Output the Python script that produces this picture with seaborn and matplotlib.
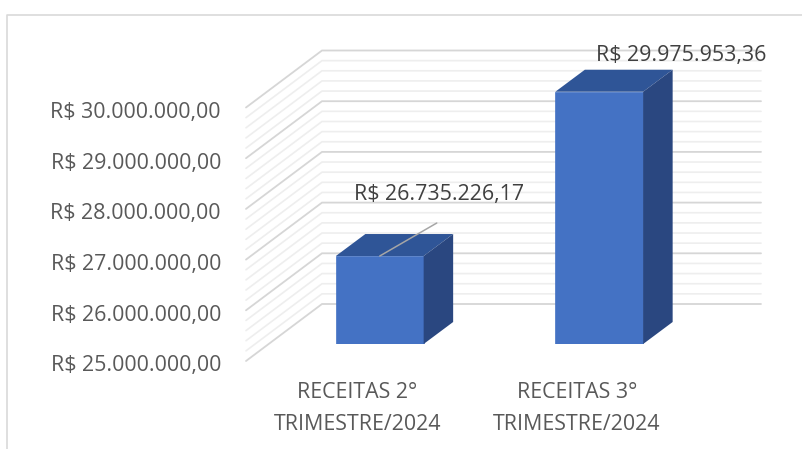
import numpy as np
import matplotlib
matplotlib.use("Agg")
import matplotlib.pyplot as plt
from matplotlib.lines import Line2D
from matplotlib.patches import Polygon
from matplotlib.ticker import FuncFormatter
from matplotlib.transforms import Affine2D
import seaborn as sns

categories = ["RECEITAS 2°\nTRIMESTRE/2024", "RECEITAS 3°\nTRIMESTRE/2024"]
values = [26735226.17, 29975953.36]
value_labels = ["R$ 26.735.226,17", "R$ 29.975.953,36"]
major_ticks = [25e6, 26e6, 27e6, 28e6, 29e6, 30e6]
minor_step = 0.2e6


def brl(v, pos=None):
    return "R$ " + f"{v:,.2f}".replace(",", "X").replace(".", ",").replace("X", ".")


sns.set_style("white")
plt.rcParams["font.family"] = ["Open Sans", "DejaVu Sans"]

W, H = 803, 449
PX_X = 219.5        # pixels per category
PX_Y = 50.7e-6      # pixels per real
FS = 15.4
fig = plt.figure(figsize=(W / 100, H / 100), dpi=100)


def make_axes(left, bottom_y):
    a = fig.add_axes([left / W, (H - bottom_y) / H, 2 * PX_X / W, 6.5e6 * PX_Y / H])
    a.set_xlim(-0.5, 1.5)
    a.set_ylim(25e6, 31.5e6)
    a.patch.set_alpha(0)
    sns.despine(ax=a, left=True, bottom=True)
    return a


# front plane of the "3d" box: holds ticks and grid
wall = make_axes(246, 361)
# plane of the bars, shifted into the depth
ax = make_axes(270, 344)

wall.set_xticks([0, 1])
wall.set_xticklabels(categories)
wall.set_yticks(major_ticks)
wall.yaxis.set_major_formatter(FuncFormatter(brl))
wall.tick_params(axis="y", length=0, pad=18, labelsize=FS, labelcolor="#595959")
wall.tick_params(axis="x", length=0, pad=15, labelsize=FS, labelcolor="#595959")
for t in wall.get_xticklabels():
    t.set_linespacing(1.72)
    t.set_transform(t.get_transform() + Affine2D().translate(1.5, 0))
for t in wall.get_yticklabels():
    t.set_transform(t.get_transform() + Affine2D().translate(0, -2.5))

dx_wall, dy_wall = 76 / PX_X, 57 / PX_Y
for v in np.arange(25e6, 30e6 + 1, minor_step):
    is_major = any(abs(v - m) < 1 for m in major_ticks)
    wall.plot([-0.5, -0.5 + dx_wall, 1.5 + dx_wall], [v, v + dy_wall, v + dy_wall],
              color="#d6d6d6" if is_major else "#eeeeee", lw=1.3 if is_major else 1.2,
              clip_on=False, zorder=1 if is_major else 0.5, solid_joinstyle="miter")

sns.barplot(x=categories, y=values, ax=ax, width=0.4, color="#4472C4", saturation=1,
            edgecolor="#4472C4", linewidth=0.5, zorder=3)
ax.set_xlabel("")
ax.set_ylabel("")
ax.set_xticks([])
ax.set_yticks([])
ax.set_xlim(-0.5, 1.5)
ax.set_ylim(25e6, 31.5e6)

dx, dy = 29.5 / PX_X, 22 / PX_Y
base = 25e6
for p in ax.patches[:len(values)]:
    x0, x1 = p.get_x(), p.get_x() + p.get_width()
    top = p.get_height()
    ax.add_patch(Polygon([(x0, top), (x1, top), (x1 + dx, top + dy), (x0 + dx, top + dy)],
                         facecolor="#2F5597", edgecolor="none", clip_on=False, zorder=3))
    ax.add_patch(Polygon([(x1, base), (x1 + dx, base + dy), (x1 + dx, top + dy), (x1, top)],
                         facecolor="#2A4780", edgecolor="none", clip_on=False, zorder=3))

# data labels, moved off the bars like in the original
ax.annotate(value_labels[0], (0, values[0]), xytext=(59, 62), textcoords="offset pixels",
            ha="center", va="center", fontsize=FS, color="#404040", annotation_clip=False, zorder=5)
ax.annotate(value_labels[1], (1, values[1]), xytext=(82, 36), textcoords="offset pixels",
            ha="center", va="center", fontsize=FS, color="#404040", annotation_clip=False, zorder=5)
ax.annotate("", (0, values[0]), xytext=(57, 33), textcoords="offset pixels",
            arrowprops=dict(arrowstyle="-", color="#a6a6a6", lw=1.1, shrinkA=0, shrinkB=0), zorder=5)

# chart border
fig.add_artist(Line2D([7 / W, 7 / W, 1], [0, 1 - 15 / H, 1 - 15 / H], color="#d9d9d9", lw=1.2))

fig.savefig("out.png", dpi=100, facecolor="white")
